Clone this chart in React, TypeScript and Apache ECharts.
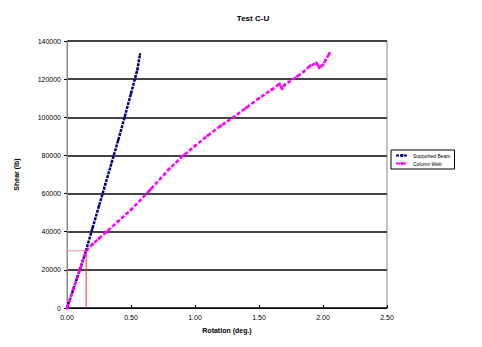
import React, { useEffect, useRef } from "react";
import * as echarts from "echarts";

const title = "Test C-U";
const xName = "Rotation (deg.)";
const yName = "Shear (lb)";
const seriesNames = ["Supported Beam", "Column Web"];

const beamX = [0, 0.05, 0.1, 0.15, 0.2, 0.25, 0.3, 0.35, 0.4, 0.45, 0.5, 0.55, 0.57];
const beamY = [0, 10000, 20000, 30500, 42000, 53500, 65000, 76500, 88000, 100000, 112500, 125000, 133000];

const webX = [0, 0.05, 0.1, 0.15, 0.2, 0.25, 0.31, 0.4, 0.5, 0.65, 0.8, 0.91, 1.0, 1.1, 1.2, 1.3, 1.4, 1.5, 1.6, 1.66, 1.68, 1.7, 1.8, 1.85, 1.9, 1.95, 1.97, 2.0, 2.02, 2.05];
const webY = [0, 10000, 20000, 30000, 33500, 36500, 40000, 45500, 51500, 62000, 73000, 80000, 85000, 90500, 95500, 100000, 105000, 110000, 114500, 117500, 115000, 117000, 121500, 124000, 127000, 128500, 126000, 127500, 130000, 133500];

const yieldX = [0.15, 0.15];
const yieldY = [0, 30000];
const hX = [0, 0.15];
const hY = [30000, 30000];

const zip = (xs: number[], ys: number[]) => xs.map((x, i) => [x, ys[i]]);

export default function App() {
  const ref = useRef<HTMLDivElement>(null);
  useEffect(() => {
    const chart = echarts.init(ref.current!, undefined, { renderer: "svg" });
    const font = "Liberation Sans, Arial, sans-serif";
    chart.setOption({
      animation: false,
      backgroundColor: "#ffffff",
      title: {
        text: title,
        left: 248,
        top: 9,
        textAlign: "center",
        textStyle: { fontSize: 8, fontWeight: "bold", fontFamily: font, color: "#000" },
      },
      legend: {
        data: seriesNames,
        orient: "vertical",
        left: 391,
        top: 150,
        itemWidth: 12,
        itemHeight: 4,
        itemGap: 3,
        padding: [3, 4, 3, 4],
        borderColor: "#000",
        borderWidth: 1,
        textStyle: { fontSize: 5, fontFamily: font, color: "#000" },
      },
      grid: { left: 67, right: 95, top: 41, bottom: 39, show: true, borderColor: "#888", borderWidth: 1 },
      xAxis: {
        type: "value",
        min: 0,
        max: 2.5,
        interval: 0.5,
        name: xName,
        nameLocation: "middle",
        nameGap: 19,
        nameTextStyle: { fontSize: 7, fontWeight: "bold", fontFamily: font, color: "#000" },
        axisLine: { lineStyle: { color: "#000", width: 1 } },
        axisTick: { show: true, inside: true, length: 3, lineStyle: { color: "#000" } },
        axisLabel: { fontSize: 7, fontFamily: font, color: "#000", formatter: (v: number) => v.toFixed(2), margin: 6 },
        splitLine: { show: false },
      },
      yAxis: {
        type: "value",
        min: 0,
        max: 140000,
        interval: 20000,
        name: yName,
        nameLocation: "middle",
        nameGap: 47,
        nameTextStyle: { fontSize: 7, fontWeight: "bold", fontFamily: font, color: "#000" },
        axisLine: { show: true, lineStyle: { color: "#888", width: 1 } },
        axisTick: { show: true, length: 3, lineStyle: { color: "#000" } },
        axisLabel: { fontSize: 7, fontFamily: font, color: "#000", margin: 6, formatter: (v: number) => String(v) },
        splitLine: { show: true, lineStyle: { color: "#444", width: 2 } },
      },
      series: [
        {
          name: "yieldV",
          type: "line",
          data: zip(yieldX, yieldY),
          symbol: "none",
          lineStyle: { color: "#ff3030", width: 1 },
          silent: true,
        },
        {
          name: "yieldH",
          type: "line",
          data: zip(hX, hY),
          symbol: "none",
          lineStyle: { color: "#d8a0a0", width: 1 },
          silent: true,
        },
        {
          name: seriesNames[0],
          type: "line",
          data: zip(beamX, beamY),
          symbol: "circle",
          symbolSize: 2.5,
          color: "#000080",
          lineStyle: { color: "#000080", width: 2.5, type: [3, 1] },
          itemStyle: { color: "#000080" },
        },
        {
          name: seriesNames[1],
          type: "line",
          data: zip(webX, webY),
          symbol: "circle",
          symbolSize: 3,
          color: "#ff00ff",
          lineStyle: { color: "#ff00ff", width: 2.5, type: [4, 2] },
          itemStyle: { color: "#ff00ff" },
        },
      ],
    });
    return () => chart.dispose();
  }, []);
  return <div ref={ref} style={{ width: 482, height: 347, position: "absolute", left: 0, top: 0 }} />;
}
